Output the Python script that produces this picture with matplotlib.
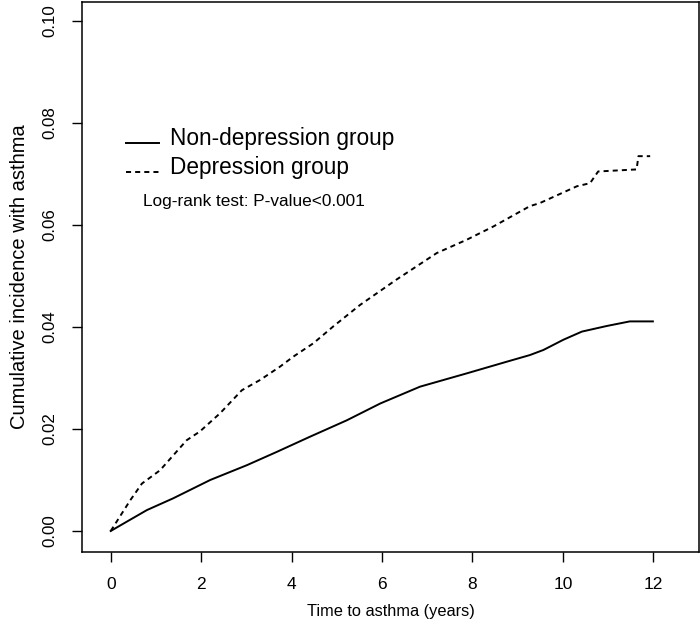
import matplotlib
matplotlib.use("Agg")
import matplotlib.pyplot as plt
from matplotlib import font_manager

# Cumulative incidence of asthma
t_nondep = [0, 0.35, 0.80, 1.38, 2.20, 3.01, 3.67, 4.41, 5.22, 5.96, 6.84, 7.87,
            8.76, 9.27, 9.57, 10.01, 10.42, 10.97, 11.48, 11.99]
y_nondep = [0, 0.0018, 0.0041, 0.0064, 0.0100, 0.0129, 0.0155, 0.0185, 0.0217,
            0.0250, 0.0283, 0.0309, 0.0332, 0.0345, 0.0355, 0.0375, 0.0391,
            0.0402, 0.0411, 0.0411]

t_dep = [0, 0.43, 0.69, 1.09, 1.68, 1.97, 2.42, 2.90, 3.30, 3.74, 4.04, 4.48,
         4.92, 5.51, 6.32, 7.21, 7.87, 8.46, 9.27, 9.49, 10.31, 10.60, 10.78,
         11.63, 11.67, 11.93]
y_dep = [0, 0.0060, 0.0093, 0.0119, 0.0178, 0.0195, 0.0231, 0.0276, 0.0296,
         0.0322, 0.0342, 0.0368, 0.0401, 0.0443, 0.0493, 0.0545, 0.0571, 0.0597,
         0.0637, 0.0643, 0.0676, 0.0682, 0.0705, 0.0709, 0.0735, 0.0735]

x_ticks = [0, 2, 4, 6, 8, 10, 12]
y_ticks = [0.00, 0.02, 0.04, 0.06, 0.08, 0.10]
y_ticklabels = ["0.00", "0.02", "0.04", "0.06", "0.08", "0.10"]
legend_labels = ["Non-depression group", "Depression group"]
test_text = "Log-rank test: P-value<0.001"

# narrow font if it is there, otherwise plain Liberation Sans
names = set(f.name for f in font_manager.fontManager.ttflist)
has_narrow = "Liberation Sans Narrow" in names
narrow = "Liberation Sans Narrow" if has_narrow else "Liberation Sans"
plt.rcParams["font.family"] = ["Liberation Sans", "DejaVu Sans"]

fig = plt.figure(figsize=(7, 6.23), dpi=100)
ax = fig.add_axes([82 / 700, 1 - 551.7 / 623, 617 / 700, 550 / 623])

ax.plot(t_nondep, y_nondep, color="black", lw=1.4, solid_joinstyle="round")
ax.plot(t_dep, y_dep, color="black", lw=1.4, linestyle=(0, (2.6, 2.1)))

ax.set_xlim(-0.635, 13.01)
ax.set_ylim(-0.00406, 0.10379)

for s in ax.spines.values():
    s.set_linewidth(1.1)
    s.set_color("black")

ax.set_xticks(x_ticks)
ax.set_xticklabels([str(v) for v in x_ticks], fontsize=12.5)
ax.set_yticks(y_ticks)
ax.set_yticklabels(y_ticklabels, fontsize=14 if has_narrow else 12.2,
                   family=narrow, rotation=90, va="center")
ax.tick_params(axis="x", length=7.5, width=1.0, pad=10.5, color="black")
ax.tick_params(axis="y", length=7.5, width=1.0, pad=10.5, color="black")

ax.set_xlabel("Time to asthma (years)", fontsize=14 if has_narrow else 11.8,
              family=narrow)
ax.xaxis.set_label_coords(0.5, -0.095)
ax.set_ylabel("Cumulative incidence with asthma", fontsize=14.5)
ax.yaxis.set_label_coords(-0.0856, 0.5)

# legend drawn by hand, R style (no box, line sits near the baseline)
ax.plot([0.0713, 0.1248], [0.7422, 0.7422], transform=ax.transAxes,
        color="black", lw=1.4, clip_on=False)
ax.text(0.1426, 0.7395, legend_labels[0], transform=ax.transAxes,
        fontsize=16.3, va="baseline", ha="left")
ax.plot([0.0713, 0.1248], [0.6909, 0.6909], transform=ax.transAxes,
        color="black", lw=1.4, linestyle=(0, (2.6, 2.1)), clip_on=False)
ax.text(0.1426, 0.6867, legend_labels[1], transform=ax.transAxes,
        fontsize=16.3, va="baseline", ha="left")
ax.text(0.0984, 0.6285, test_text, transform=ax.transAxes,
        fontsize=12.4, va="baseline", ha="left")

fig.savefig("out.png", dpi=100)
